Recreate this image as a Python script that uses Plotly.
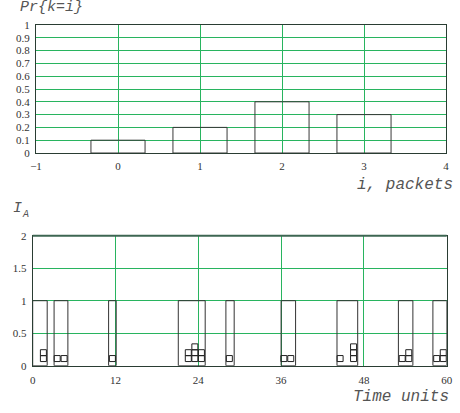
import plotly.graph_objects as go

# ---- top chart data: distribution Pr{k=i}
packets_i = [0, 1, 2, 3]
prob_k = [0.1, 0.2, 0.4, 0.3]
bar_width = 0.66
top_xticks = [-1, 0, 1, 2, 3, 4]
top_yticks = [0, 0.1, 0.2, 0.3, 0.4, 0.5, 0.6, 0.7, 0.8, 0.9, 1]
top_ytick_text = ["0", "0.1", "0.2", "0.3", "0.4", "0.5", "0.6", "0.7", "0.8", "0.9", "1"]

# ---- bottom chart data: ON periods of source A and packet arrivals
on_start = [0.0, 3.1, 11.0, 21.1, 28.0, 36.0, 44.1, 53.0, 58.0]
on_end = [2.1, 5.1, 12.1, 25.0, 29.2, 38.1, 47.1, 55.1, 60.0]
on_level = [1, 1, 1, 1, 1, 1, 1, 1, 1]
pkt_x = [1.55, 1.55, 3.55, 4.55, 11.55,
         22.55, 22.55, 23.5, 23.5, 23.5, 24.45, 24.45,
         28.5, 36.4, 37.4, 44.55, 46.5, 46.5, 46.5,
         53.55, 54.5, 54.5, 58.55, 59.5, 59.5]
pkt_y = [0.11, 0.2, 0.11, 0.11, 0.11,
         0.11, 0.2, 0.11, 0.2, 0.29, 0.11, 0.2,
         0.11, 0.11, 0.11, 0.11, 0.11, 0.2, 0.29,
         0.11, 0.11, 0.2, 0.11, 0.11, 0.2]
bot_xticks = [0, 12, 24, 36, 48, 60]
bot_yticks = [0, 0.5, 1, 1.5, 2]
bot_ytick_text = ["0", "0.5", "1", "1.5", "2"]

W, H = 460, 413
GRID = "rgb(40,180,95)"
FRAME = "#2a3d33"
TICKFONT = dict(family="Liberation Serif", size=11, color="#333333")
MONO = dict(family="Liberation Mono", size=15, color="#555555")
MONO_L = dict(family="Liberation Mono", size=16, color="#555555")
MONO_SUB = dict(family="Liberation Mono", size=10, color="#555555")

fig = go.Figure()

fig.add_trace(go.Bar(
    x=packets_i, y=prob_k, width=bar_width,
    marker=dict(color="rgba(0,0,0,0)", line=dict(color="#3a3a3a", width=1)),
    xaxis="x", yaxis="y", showlegend=False, hoverinfo="skip"))

centers = [(s + e) / 2 for s, e in zip(on_start, on_end)]
widths = [e - s for s, e in zip(on_start, on_end)]
fig.add_trace(go.Bar(
    x=centers, y=on_level, width=widths,
    marker=dict(color="rgba(0,0,0,0)", line=dict(color="#333333", width=1)),
    xaxis="x2", yaxis="y2", showlegend=False, hoverinfo="skip"))

fig.add_trace(go.Scatter(
    x=pkt_x, y=pkt_y, mode="markers",
    marker=dict(symbol="square-open", size=6, color="#222222", line=dict(width=1)),
    xaxis="x2", yaxis="y2", showlegend=False, hoverinfo="skip"))

def px_x(p):
    return p / W

def px_y(p):
    return 1 - p / H

common = dict(showgrid=True, gridcolor=GRID, gridwidth=1, zeroline=False,
              showline=True, linecolor=FRAME, linewidth=1, mirror=True,
              ticks="", tickfont=TICKFONT, fixedrange=True, automargin=False)

fig.update_layout(
    template="none",
    width=W, height=H,
    margin=dict(l=0, r=0, t=0, b=0, autoexpand=False),
    paper_bgcolor="white", plot_bgcolor="white",
    barmode="overlay",
    xaxis=dict(domain=[px_x(36), px_x(446)], range=[-1, 4], anchor="y",
               tickvals=top_xticks, ticklabelstandoff=3, **common),
    yaxis=dict(domain=[px_y(153), px_y(25)], range=[0, 1], anchor="x",
               tickvals=top_yticks, ticktext=top_ytick_text, ticklabelstandoff=3, **common),
    xaxis2=dict(domain=[px_x(32.7), px_x(446.7)], range=[0, 60], anchor="y2",
                tickvals=bot_xticks, ticklabelstandoff=4, **common),
    yaxis2=dict(domain=[px_y(365.7), px_y(235.7)], range=[0, 2], anchor="x2",
                tickvals=bot_yticks, ticktext=bot_ytick_text, ticklabelstandoff=3, **common),
    annotations=[
        dict(text="<i>Pr{k=i}</i>", x=px_x(18), y=px_y(8), xref="paper", yref="paper",
             xanchor="left", yanchor="middle", showarrow=False, font=MONO),
        dict(text="<i>i, packets</i>", x=px_x(455), y=px_y(185), xref="paper", yref="paper",
             xanchor="right", yanchor="middle", showarrow=False, font=MONO_L),
        dict(text="<i>I</i>", x=px_x(11), y=px_y(208), xref="paper", yref="paper",
             xanchor="left", yanchor="middle", showarrow=False, font=MONO),
        dict(text="<i>A</i>", x=px_x(20), y=px_y(214), xref="paper", yref="paper",
             xanchor="left", yanchor="middle", showarrow=False, font=MONO_SUB),
        dict(text="<i>Time units</i>", x=px_x(451), y=px_y(397), xref="paper", yref="paper",
             xanchor="right", yanchor="middle", showarrow=False, font=MONO_L),
    ],
)

# thicker dark top edge of lower plot
fig.add_shape(type="line", xref="x2 domain", yref="y2 domain", x0=0, x1=1, y0=1, y1=1,
              line=dict(color="#3d6652", width=2))

fig.write_html("out.html", config={"displayModeBar": False},
               post_script="document.body.style.margin='0';document.body.style.overflow='hidden';")
